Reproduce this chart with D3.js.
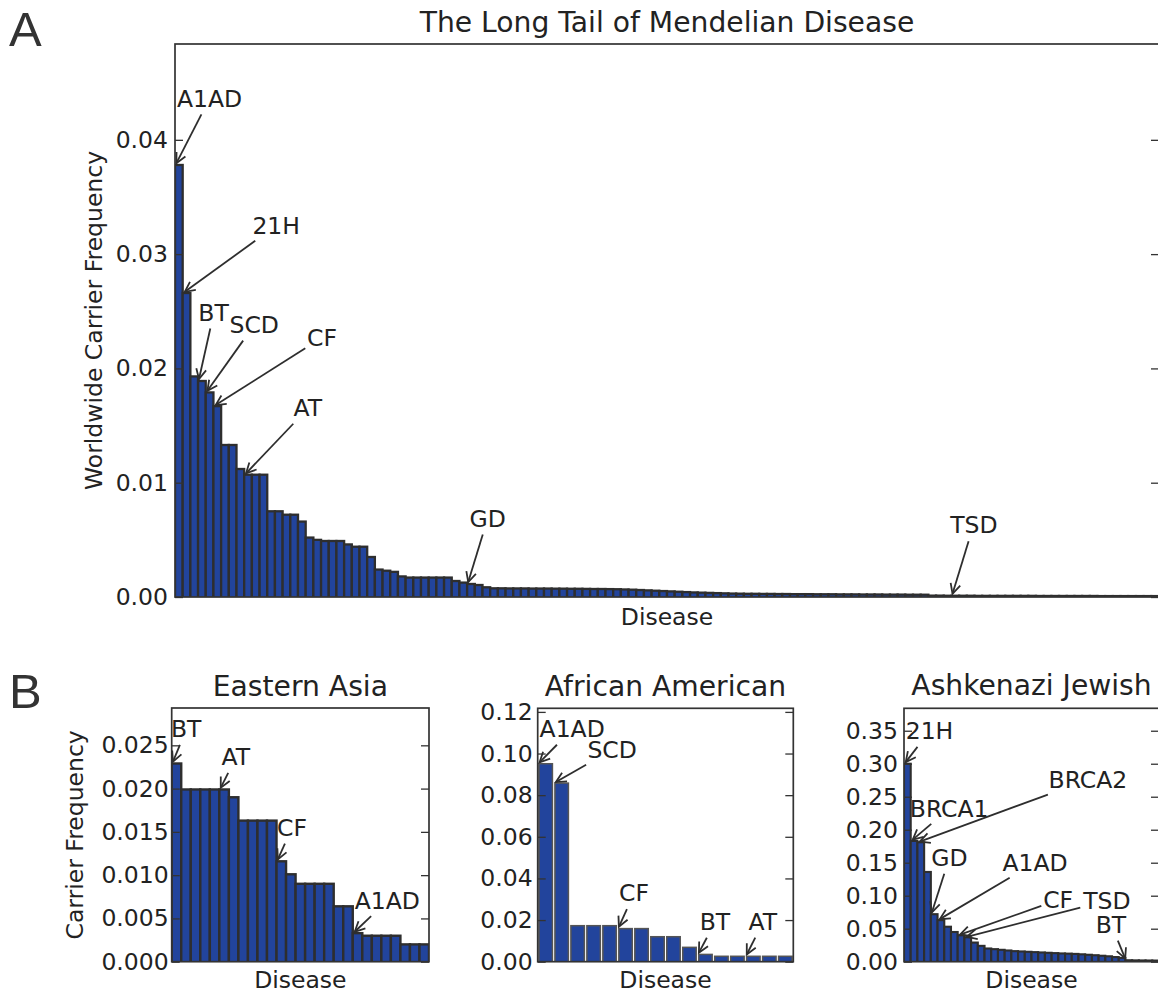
<!DOCTYPE html>
<html>
<head>
<meta charset="utf-8">
<script src="https://cdn.jsdelivr.net/npm/d3@7/dist/d3.min.js"></script>
<style>
  body { margin: 0; background: #fff; }
  svg text { font-family: "DejaVu Sans", sans-serif; font-size: 23.5px; fill: #222; }
  svg text.title { font-size: 28.2px; }
  svg text.letter { font-family: "Liberation Sans", sans-serif; font-size: 49px; fill: #333; }
</style>
</head>
<body>
<svg id="chart" width="1158" height="994"></svg>
<script>
// ---- data: carrier frequency per disease, sorted high to low ----
const worldwideFreq = [
  0.0378, 0.0266, 0.0193, 0.0189, 0.0179, 0.0167, 0.0133, 0.0133, 0.0112, 0.0107,
  0.0107, 0.0107, 0.0075, 0.0075, 0.0072, 0.0072, 0.0066, 0.0052, 0.0050, 0.0049,
  0.0049, 0.0049, 0.0046, 0.0044, 0.0044, 0.0035, 0.0024, 0.0023, 0.0022, 0.0018,
  0.0017, 0.0017, 0.0017, 0.0017, 0.0017, 0.0017, 0.0014, 0.00126, 0.00114, 0.00105,
  0.00085, 0.00076, 0.00076, 0.00075, 0.00075, 0.00075, 0.00074, 0.00074, 0.00074, 0.00073,
  0.00073, 0.00072, 0.00072, 0.00071, 0.0007, 0.0007, 0.00069, 0.00068, 0.00066, 0.00064,
  0.00061, 0.00058, 0.00055, 0.00052, 0.00049, 0.00046, 0.00043, 0.0004, 0.00038, 0.00036,
  0.00034, 0.00032, 0.0003, 0.00029, 0.00028, 0.00028, 0.00027, 0.00027, 0.00026, 0.00026,
  0.00025, 0.00025, 0.00025, 0.00024, 0.00024, 0.00024, 0.00023, 0.00023, 0.00023, 0.00022,
  0.00022, 0.00022, 0.00021, 0.00021, 0.00021, 0.0002, 0.0002, 0.0002, 0.00012, 0.00012,
  0.00011, 0.00011, 0.00011, 0.00011, 0.0001, 0.0001, 0.0001, 0.0001, 0.0001, 0.0001,
  0.0001, 0.0001, 0.00009, 0.00009, 0.00009, 0.00009, 0.00009, 0.00009, 0.00009, 0.00009,
  0.00008, 0.00008, 0.00008, 0.00008, 0.00008, 0.00008, 0.00008, 0.00008
];
const worldwideTicks = [0, 0.01, 0.02, 0.03, 0.04];
const worldwideLabels = ["A1AD", "21H", "BT", "SCD", "CF", "AT", "GD", "TSD"];
const worldwideLabelBars = [0, 1, 3, 4, 5, 9, 38, 101];

const eastAsiaFreq = [
  0.0229, 0.0199, 0.0199, 0.0199, 0.0199, 0.0199, 0.019, 0.0163, 0.0163, 0.0163,
  0.0163, 0.0116, 0.0101, 0.009, 0.009, 0.009, 0.009, 0.0064, 0.0064, 0.0033,
  0.003, 0.003, 0.003, 0.003, 0.002, 0.002, 0.002
];
const eastAsiaTicks = [0, 0.005, 0.01, 0.015, 0.02, 0.025];
const eastAsiaLabels = ["BT", "AT", "CF", "A1AD"];
const eastAsiaLabelBars = [0, 5, 11, 19];

const africanAmFreq = [
  0.0951, 0.0858, 0.0173, 0.0173, 0.0173, 0.0159, 0.0159, 0.012, 0.012, 0.0069,
  0.0035, 0.0026, 0.0026, 0.0026, 0.0026, 0.0026
];
const africanAmTicks = [0, 0.02, 0.04, 0.06, 0.08, 0.10, 0.12];
const africanAmLabels = ["A1AD", "SCD", "CF", "BT", "AT"];
const africanAmLabelBars = [0, 1, 5, 10, 13];

const ashkenaziFreq = [
  0.300, 0.183, 0.181, 0.136, 0.072, 0.063, 0.053, 0.045, 0.040, 0.037,
  0.029, 0.024, 0.020, 0.019, 0.018, 0.017, 0.016, 0.0155, 0.015, 0.0145,
  0.014, 0.0135, 0.013, 0.0125, 0.0122, 0.0118, 0.0112, 0.0105, 0.0098, 0.009,
  0.0082, 0.007, 0.0058, 0.0022, 0.002, 0.0019, 0.0018, 0.0017
];
const ashkenaziTicks = [0, 0.05, 0.10, 0.15, 0.20, 0.25, 0.30, 0.35];
const ashkenaziLabels = ["21H", "BRCA1", "BRCA2", "GD", "A1AD", "CF", "TSD", "BT"];
const ashkenaziLabelBars = [0, 1, 2, 4, 5, 8, 9, 33];

// ---- layout ----
const svg = d3.select("#chart");
const barFill = "#22449c";

const panels = [
  {
    values: worldwideFreq, ticks: worldwideTicks, labels: worldwideLabels, labelBars: worldwideLabelBars,
    left: 175, right: 1159, top: 44, bottom: 597, fmt: ".2f", pad: 7,
    title: "The Long Tail of Mendelian Disease", titleY: 31.5, xlabelY: 625,
    ylabel: "Worldwide Carrier Frequency", ylabelX: 102,
    gap: 0, edge: "#2e2e2e", edgeW: 2.3,
    offsets: [[34, -67], [93, -68], [15, -69], [48, -68], [108, -69], [63, -67], [20, -66], [22, -71]]
  },
  {
    values: eastAsiaFreq, ticks: eastAsiaTicks, labels: eastAsiaLabels, labelBars: eastAsiaLabelBars,
    left: 171.7, right: 429, top: 708, bottom: 961.7, fmt: ".3f", pad: 3,
    title: "Eastern Asia", titleY: 696, xlabelY: 988,
    ylabel: "Carrier Frequency", ylabelX: 83,
    gap: 0, edge: "#2e2e2e", edgeW: 2.4,
    offsets: [[14, -35], [16, -33], [15, -34], [34, -33]]
  },
  {
    values: africanAmFreq, ticks: africanAmTicks, labels: africanAmLabels, labelBars: africanAmLabelBars,
    left: 537.7, right: 793.3, top: 708.3, bottom: 961.7, fmt: ".2f", pad: 5,
    title: "African American", titleY: 696, xlabelY: 988,
    ylabel: null,
    gap: 2.5, edge: "#555", edgeW: 1.5,
    offsets: [[34, -35], [58, -34], [16, -36], [17, -33], [17, -35]]
  },
  {
    values: ashkenaziFreq, ticks: ashkenaziTicks, labels: ashkenaziLabels, labelBars: ashkenaziLabelBars,
    left: 904, right: 1159, top: 708.3, bottom: 961.7, fmt: ".2f", pad: 6,
    title: "Ashkenazi Jewish", titleY: 695, xlabelY: 988,
    ylabel: null,
    gap: 0, edge: "#2e2e2e", edgeW: 2.1,
    offsets: [[25, -33], [38, -33], [170, -63], [18, -57], [97, -58], [100, -36], [142, -37], [-15, -36]]
  }
];

// arrow from the text box edge to the bar corner, "->" style head
function drawArrow(g, box, tip) {
  const cx = box.x + box.width / 2, cy = box.y + box.height / 2;
  const dx = tip[0] - cx, dy = tip[1] - cy;
  const len = Math.hypot(dx, dy);
  const ux = dx / len, uy = dy / len;
  const tx = Math.abs(ux) > 1e-6 ? (box.width / 2) / Math.abs(ux) : Infinity;
  const ty = Math.abs(uy) > 1e-6 ? (box.height / 2) / Math.abs(uy) : Infinity;
  const t0 = Math.min(tx, ty) + 2;
  const sx = cx + ux * t0, sy = cy + uy * t0;
  const ex = tip[0] - ux * 2, ey = tip[1] - uy * 2;
  g.append("line")
    .attr("x1", sx).attr("y1", sy).attr("x2", ex).attr("y2", ey)
    .attr("stroke", "#2e2e2e").attr("stroke-width", 1.8);
  const hl = 10, hw = 5;
  const bx = ex - ux * hl, by = ey - uy * hl;
  g.append("path")
    .attr("d", `M${bx - uy * hw},${by + ux * hw}L${ex},${ey}L${bx + uy * hw},${by - ux * hw}`)
    .attr("fill", "none").attr("stroke", "#2e2e2e").attr("stroke-width", 1.8);
}

panels.forEach(function(p, k) {
  const x = d3.scaleLinear().domain([0, p.values.length]).range([p.left, p.right]);
  const y = d3.scaleLinear().domain([0, d3.max(p.values) * 1.28]).range([p.bottom, p.top]);
  const g = svg.append("g");

  const clipId = "clip" + k;
  svg.append("clipPath").attr("id", clipId)
    .append("rect")
    .attr("x", p.left).attr("y", p.top)
    .attr("width", p.right - p.left).attr("height", p.bottom - p.top);

  // bars
  g.append("g").attr("clip-path", `url(#${clipId})`)
    .selectAll("rect")
    .data(p.values)
    .enter().append("rect")
    .attr("x", (d, i) => x(i) + p.gap / 2)
    .attr("width", (d, i) => x(i + 1) - x(i) - p.gap)
    .attr("y", d => y(d))
    .attr("height", d => y(0) - y(d) + 2)
    .attr("fill", barFill)
    .attr("stroke", p.edge)
    .attr("stroke-width", p.edgeW);

  // ticks, inward on both sides
  const leftAxis = g.append("g")
    .attr("transform", `translate(${p.left},0)`)
    .call(d3.axisLeft(y).tickValues(p.ticks).tickFormat(d3.format(p.fmt))
      .tickSize(-8).tickSizeOuter(0).tickPadding(p.pad));
  const rightAxis = g.append("g")
    .attr("transform", `translate(${p.right},0)`)
    .call(d3.axisRight(y).tickValues(p.ticks).tickFormat("")
      .tickSize(-8).tickSizeOuter(0));
  [leftAxis, rightAxis].forEach(function(a) {
    a.attr("font-size", null).attr("font-family", null);
    a.select(".domain").remove();
    a.selectAll(".tick line").attr("stroke", "#333").attr("stroke-width", 1.3);
  });
  leftAxis.selectAll(".tick text").attr("fill", "#222");

  // frame
  g.append("rect")
    .attr("x", p.left).attr("y", p.top)
    .attr("width", p.right - p.left).attr("height", p.bottom - p.top)
    .attr("fill", "none").attr("stroke", "#333").attr("stroke-width", 1.7);

  // titles and labels
  const mid = (p.left + p.right) / 2;
  g.append("text").attr("class", "title")
    .attr("x", mid).attr("y", p.titleY)
    .attr("text-anchor", "middle").text(p.title);
  g.append("text")
    .attr("x", mid).attr("y", p.xlabelY)
    .attr("text-anchor", "middle").text("Disease");
  if (p.ylabel) {
    g.append("text")
      .attr("transform", `translate(${p.ylabelX},${(p.top + p.bottom) / 2}) rotate(-90)`)
      .attr("text-anchor", "middle").text(p.ylabel);
  }

  // annotations
  p.labels.forEach(function(lab, j) {
    const bi = p.labelBars[j];
    const tip = [x(bi) + 0.5, y(p.values[bi])];
    const off = p.offsets[j];
    const t = g.append("text")
      .attr("x", tip[0] + off[0]).attr("y", tip[1] + off[1] + 8.6)
      .attr("text-anchor", "middle").text(lab);
    drawArrow(g, t.node().getBBox(), tip);
  });
});

// panel letters
svg.append("text").attr("class", "letter").attr("x", 9).attr("y", 46).text("A");
svg.append("text").attr("class", "letter").attr("x", 9).attr("y", 708).text("B");
</script>
</body>
</html>
